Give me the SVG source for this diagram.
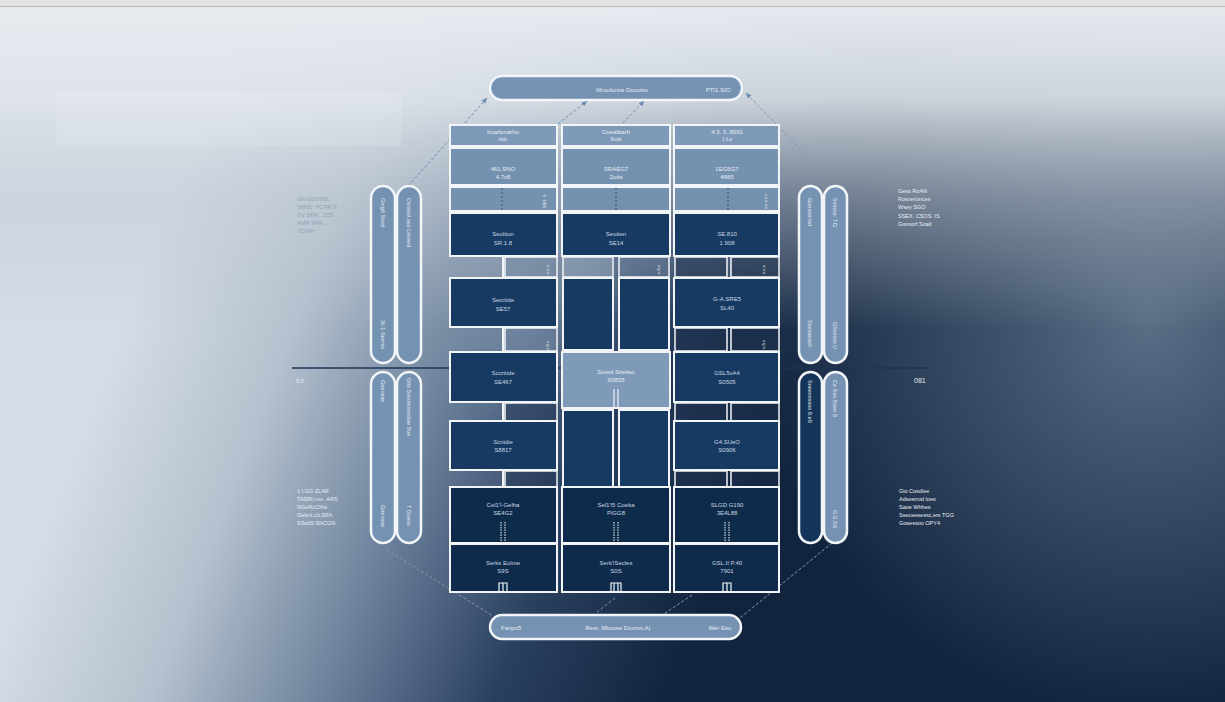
<svg xmlns="http://www.w3.org/2000/svg" width="1225" height="702" viewBox="0 0 1225 702">
<defs>
<linearGradient id="bg" gradientUnits="userSpaceOnUse" x1="100" y1="380" x2="700" y2="610">
<stop offset="0" stop-color="#d5dde6"/>
<stop offset="0.25" stop-color="#b5c1ce"/>
<stop offset="0.5" stop-color="#6d829c"/>
<stop offset="0.75" stop-color="#2a4060"/>
<stop offset="1" stop-color="#12243d"/>
</linearGradient>
<linearGradient id="top" gradientUnits="userSpaceOnUse" x1="0" y1="0" x2="0" y2="330">
<stop offset="0" stop-color="#e7ecf1" stop-opacity="1"/>
<stop offset="0.3" stop-color="#dfe4ea" stop-opacity="0.9"/>
<stop offset="0.6" stop-color="#c4cdd7" stop-opacity="0.5"/>
<stop offset="1" stop-color="#b9c3cf" stop-opacity="0"/>
</linearGradient>
<radialGradient id="cl" cx="1150" cy="320" r="400" gradientUnits="userSpaceOnUse">
<stop offset="0" stop-color="#7a8ea6" stop-opacity="0.7"/>
<stop offset="0.5" stop-color="#6a7f98" stop-opacity="0.4"/>
<stop offset="1" stop-color="#6a7f98" stop-opacity="0"/>
</radialGradient>
<radialGradient id="cl2" cx="520" cy="300" r="120" gradientUnits="userSpaceOnUse">
<stop offset="0" stop-color="#8a9bb0" stop-opacity="0.6"/>
<stop offset="1" stop-color="#8a9bb0" stop-opacity="0"/>
</radialGradient>
<marker id="ah" viewBox="0 0 10 10" refX="9" refY="5" markerWidth="6" markerHeight="6" orient="auto">
<path d="M0,1 L10,5 L0,9 Z" fill="#6d8db2"/>
</marker>
<style>
.lt{fill:#7591b0;stroke:#f2f5f8;stroke-width:2}
.hd{fill:#7e9ab8;stroke:#f2f5f8;stroke-width:2}
.dk{fill:#163a61;stroke:#f2f5f8;stroke-width:2}
.dk2{fill:#0f2b4b;stroke:#f2f5f8;stroke-width:2}
.gp{fill:#6f87a3;fill-opacity:0.35;stroke:#f2f5f8;stroke-width:1.5}
.gpd{fill:#1e3350;fill-opacity:0.45;stroke:#f2f5f8;stroke-width:1.5}
.pill{fill:#7592b2;stroke:#f2f5f8;stroke-width:2.5}
.pilld{fill:#143459;stroke:#f2f5f8;stroke-width:2.5}
.stem{stroke:#f2f5f8;stroke-width:2;fill:none}
.dsh{stroke:#6d8db2;stroke-width:1;stroke-dasharray:3 2;fill:none}
.dshg{stroke:#8796ab;stroke-width:1;stroke-dasharray:3 2;fill:none}
.inner{stroke:#3c4f68;stroke-width:1;stroke-dasharray:2 2}
.door{stroke:#f2f5f8;stroke-width:1;stroke-dasharray:1.5 1}
text{font-family:"Liberation Sans","DejaVu Sans",sans-serif}
.t{font-size:6px;fill:#e6edf4;text-anchor:middle}
.td{font-size:6px;fill:#c9d5e3;text-anchor:middle}
.tp{font-size:6px;fill:#e6edf4}
.ts{font-size:5.5px;fill:#e8edf3}
.tsg{font-size:5.5px;fill:#93a1b3}
.tv{font-size:5.5px;fill:#e3eaf2}
.tiny{font-size:4px;fill:#f2f5f8}
</style>
</defs>

<rect width="1225" height="702" fill="url(#bg)"/>
<rect width="1225" height="702" fill="url(#cl)"/>
<rect width="1225" height="702" fill="url(#cl2)"/>
<rect width="1225" height="702" fill="url(#top)"/>
<rect x="57" y="92" width="345" height="54" fill="#f4f7fa" fill-opacity="0.15"/>
<rect x="0" y="0" width="1225" height="6" fill="#e4e4e4"/>
<line x1="0" y1="6.5" x2="1225" y2="6.5" stroke="#b8b8b8" stroke-width="1"/>

<line x1="292" y1="368" x2="928" y2="368" stroke="#1e3555" stroke-width="1.5"/>
<text x="296" y="383" class="ts">5.0</text>
<text x="914" y="383" class="tp" style="font-size:7px">081</text>

<g id="connectors">
<line class="dsh" x1="408" y1="186" x2="487" y2="98" marker-end="url(#ah)"/>
<line class="dsh" x1="558" y1="124" x2="587" y2="101" marker-end="url(#ah)"/>
<line class="dsh" x1="623" y1="123" x2="644" y2="101" marker-end="url(#ah)"/>
<line class="dshg" x1="808" y1="157" x2="746" y2="93" marker-end="url(#ah)"/>
<line class="dshg" x1="422" y1="323" x2="450" y2="306"/>
<line class="dshg" x1="387" y1="550" x2="493" y2="616"/>
<line class="dshg" x1="615" y1="598" x2="596" y2="613"/>
<line class="dshg" x1="692" y1="595" x2="664" y2="614"/>
<line class="dshg" x1="832" y1="543" x2="740" y2="618"/>
</g>

<g id="top-bar">
<rect class="pill" x="490" y="76" width="252" height="24" rx="12"/>
<text x="622" y="92" class="t">Mroofonus Docotso</text>
<text x="718" y="92" class="t">PTI1.SIO</text>
</g>

<g id="bottom-bar">
<rect class="pill" x="490" y="615" width="251" height="24" rx="12"/>
<text x="501" y="630" class="tp">Fanpo5</text>
<text x="618" y="630" class="t">Resr. Mbcose Dcorsn.A)</text>
<text x="720" y="630" class="t">Wer Eso</text>
</g>

<g id="left-pills-top">
<rect class="pill" x="371" y="186" width="24" height="177" rx="12"/>
<rect class="pill" x="397" y="186" width="24" height="177" rx="12"/>
<text class="tv" transform="translate(381,198) rotate(90)">Gsrg6 Sbsd</text>
<text class="tv" transform="translate(381,320) rotate(90)">3c:1 Seerso</text>
<text class="tv" transform="translate(407,198) rotate(90)">Ceraepl.aso Leceed</text>
</g>
<g id="left-pills-bottom">
<rect class="pill" x="371" y="372" width="24" height="171" rx="12"/>
<rect class="pill" x="397" y="372" width="24" height="171" rx="12"/>
<text class="tv" transform="translate(381,380) rotate(90)">Goensae</text>
<text class="tv" transform="translate(381,505) rotate(90)">Goensse</text>
<text class="tv" transform="translate(407,378) rotate(90)">Gtts Socolesseslae Sbe</text>
<text class="tv" transform="translate(407,505) rotate(90)">T Goeso</text>
</g>
<g id="right-pills-top">
<rect class="pill" x="799" y="186" width="23" height="177" rx="11.5"/>
<rect class="pill" x="824" y="186" width="23" height="177" rx="11.5"/>
<text class="tv" transform="translate(808,198) rotate(90)">Goosoonsd</text>
<text class="tv" transform="translate(808,320) rotate(90)">Ssosaesoll</text>
<text class="tv" transform="translate(833,198) rotate(90)">Ssssss: T.G</text>
<text class="tv" transform="translate(833,322) rotate(90)">GSsssss.U</text>
</g>
<g id="right-pills-bottom">
<rect class="pilld" x="799" y="372" width="23" height="171" rx="11.5"/>
<rect class="pill" x="824" y="372" width="23" height="171" rx="11.5"/>
<text class="tv" transform="translate(808,380) rotate(90)">Soeeosssoo 9.eS</text>
<text class="tv" transform="translate(833,380) rotate(90)">Ce.Sas.Sseo.S</text>
<text class="tv" transform="translate(833,510) rotate(90)">G.S.SS</text>
</g>

<g id="note-left-top">
<text class="tsg" x="297" y="201">GN GDGSSL</text>
<text class="tsg" x="297" y="209">SNND .PCRR.G</text>
<text class="tsg" x="297" y="217">GV SRR.. ZZS</text>
<text class="tsg" x="297" y="225">AMR SRR.:..</text>
<text class="tsg" x="297" y="233">GDVAY</text>
</g>
<g id="note-left-bottom">
<text class="ts" x="297" y="493">1 I.GG ZLAR</text>
<text class="ts" x="297" y="501">TASRl.r.ee .ARS</text>
<text class="ts" x="297" y="509">NGeRcCINs</text>
<text class="ts" x="297" y="517">Gefert.c/LSRA</text>
<text class="ts" x="297" y="525">SSatlS SNCGN</text>
</g>
<g id="note-right-top">
<text class="ts" x="898" y="193">Gess RoAN</text>
<text class="ts" x="898" y="201">Rosneronces</text>
<text class="ts" x="898" y="209">Wsey SGO</text>
<text class="ts" x="898" y="218">SSEX. CSOS. IS</text>
<text class="ts" x="898" y="226">Goosorf Soalt</text>
</g>
<g id="note-right-bottom">
<text class="ts" x="899" y="493">Gio Cosdlee</text>
<text class="ts" x="899" y="501">Adsesrrod loes</text>
<text class="ts" x="899" y="509">Saoe Whhes</text>
<text class="ts" x="899" y="517">Sseceesessc,ers TGG</text>
<text class="ts" x="899" y="525">Gosessoo OPY4</text>
</g>

<g id="col1">
<rect class="hd" x="450" y="125" width="107" height="21"/>
<text class="t" x="503" y="134">Ircarlonarho</text>
<text class="t" x="503" y="141" style="font-size:4.5px">ntdo</text>
<rect class="lt" x="450" y="148" width="107" height="37"/>
<text class="t" x="503" y="171">461.SNO</text>
<text class="t" x="503" y="179">4.7c8</text>
<rect class="lt" x="450" y="187" width="107" height="24"/>
<line class="inner" x1="502" y1="188" x2="502" y2="210"/>
<text class="tiny" transform="translate(546,208) rotate(-90)">SSO ·9.</text>
<rect class="dk" x="450" y="213" width="107" height="43"/>
<text class="td" x="503" y="236">Seoltion</text>
<text class="td" x="503" y="245">SR.1.8</text>
<line class="stem" x1="503" y1="256" x2="503" y2="278"/>
<rect class="gp" x="505" y="257" width="52" height="20"/>
<text class="tiny" transform="translate(549,274) rotate(-90)">o.o.o</text>
<rect class="dk" x="450" y="278" width="107" height="49"/>
<text class="td" x="503" y="302">Secrtide</text>
<text class="td" x="503" y="311">SE57</text>
<line class="stem" x1="503" y1="327" x2="503" y2="352"/>
<rect class="gp" x="505" y="328" width="52" height="23"/>
<text class="tiny" transform="translate(549,350) rotate(-90)">o.S.o</text>
<rect class="dk" x="450" y="352" width="107" height="50"/>
<text class="td" x="503" y="375">Sccritide</text>
<text class="td" x="503" y="384">SE467</text>
<line class="stem" x1="503" y1="402" x2="503" y2="421"/>
<rect class="gpd" x="505" y="403" width="52" height="18"/>
<rect class="dk" x="450" y="421" width="107" height="49"/>
<text class="td" x="503" y="444">Scnidie</text>
<text class="td" x="503" y="452">S8817</text>
<line class="stem" x1="503" y1="470" x2="503" y2="487"/>
<rect class="gpd" x="505" y="471" width="52" height="16"/>
<rect class="dk2" x="450" y="487" width="107" height="56"/>
<text class="td" x="503" y="507">Cel1'l-Gelha</text>
<text class="td" x="503" y="515">SE4G2</text>
<line class="door" x1="501" y1="522" x2="501" y2="543"/>
<line class="door" x1="505" y1="522" x2="505" y2="543"/>
<rect class="dk2" x="450" y="544" width="107" height="48"/>
<text class="td" x="503" y="565">Serks Eolme</text>
<text class="td" x="503" y="573">S9S</text>
<path class="stem" style="stroke-width:1.2" d="M499,592 V583 H507 V592 M503,583 V592"/>
</g>

<g id="col2">
<rect class="hd" x="562" y="125" width="108" height="21"/>
<text class="t" x="616" y="134">Ooealbarh</text>
<text class="t" x="616" y="141" style="font-size:4.5px">Roda</text>
<rect class="lt" x="562" y="148" width="108" height="37"/>
<text class="t" x="616" y="171">SRAEG7</text>
<text class="t" x="616" y="179">2otts</text>
<rect class="lt" x="562" y="187" width="108" height="24"/>
<line class="inner" x1="616" y1="188" x2="616" y2="210"/>
<rect class="dk" x="562" y="213" width="108" height="43"/>
<text class="td" x="616" y="236">Seoiten</text>
<text class="td" x="616" y="245">SE14</text>
<rect class="gp" x="563" y="257" width="50" height="20" style="fill:#8fa3ba;fill-opacity:0.55"/>
<rect class="gp" x="619" y="257" width="50" height="20"/>
<text class="tiny" transform="translate(660,274) rotate(-90)">o.S.o</text>
<rect class="dk" x="563" y="278" width="50" height="72"/>
<rect class="dk" x="619" y="278" width="50" height="72"/>
<rect class="hd" x="562" y="352" width="108" height="56"/>
<text class="t" x="616" y="374">Sored Sheliso</text>
<text class="t" x="616" y="382">S0835</text>
<line class="stem" style="stroke-width:1.2" x1="614" y1="389" x2="614" y2="408"/>
<line class="stem" style="stroke-width:1.2" x1="618" y1="389" x2="618" y2="408"/>
<rect class="dk" x="563" y="410" width="50" height="77"/>
<rect class="dk" x="619" y="410" width="50" height="77"/>
<rect class="dk2" x="562" y="487" width="108" height="56"/>
<text class="td" x="616" y="507">Sel1'l5 Coeba</text>
<text class="td" x="616" y="515">PiGG8</text>
<line class="door" x1="614" y1="522" x2="614" y2="543"/>
<line class="door" x1="618" y1="522" x2="618" y2="543"/>
<rect class="dk2" x="562" y="544" width="108" height="48"/>
<text class="td" x="616" y="565">Serk'lSecles</text>
<text class="td" x="616" y="573">S0S</text>
<path class="stem" style="stroke-width:1.2" d="M611,592 V583 H621 V592 M614,583 V592 M618,583 V592"/>
</g>

<g id="col3">
<rect class="hd" x="674" y="125" width="105" height="21"/>
<text class="t" x="727" y="134">4.3. 3..8091</text>
<text class="t" x="727" y="141" style="font-size:4.5px">1 tt.a</text>
<rect class="lt" x="674" y="148" width="105" height="37"/>
<text class="t" x="727" y="171">1EG5G7</text>
<text class="t" x="727" y="179">4665</text>
<rect class="lt" x="674" y="187" width="105" height="24"/>
<line class="inner" x1="728" y1="188" x2="728" y2="210"/>
<text class="tiny" transform="translate(767,209) rotate(-90)">o.o.o o.o</text>
<rect class="dk" x="674" y="213" width="105" height="43"/>
<text class="td" x="727" y="236">SE.810</text>
<text class="td" x="727" y="245">1.908</text>
<rect class="gpd" x="675" y="257" width="52" height="20"/>
<rect class="gpd" x="731" y="257" width="48" height="20"/>
<text class="tiny" transform="translate(765,274) rotate(-90)">o.o.o</text>
<rect class="dk" x="674" y="278" width="105" height="49"/>
<text class="td" x="727" y="301">G-A.SRE5</text>
<text class="td" x="727" y="310">SL40</text>
<rect class="gpd" x="675" y="328" width="52" height="23"/>
<rect class="gpd" x="731" y="328" width="48" height="23"/>
<text class="tiny" transform="translate(765,349) rotate(-90)">o.S.o</text>
<rect class="dk" x="674" y="352" width="105" height="50"/>
<text class="td" x="727" y="375">GSL5vA4</text>
<text class="td" x="727" y="384">S0505</text>
<rect class="gpd" x="675" y="403" width="52" height="18"/>
<rect class="gpd" x="731" y="403" width="48" height="18"/>
<rect class="dk" x="674" y="421" width="105" height="49"/>
<text class="td" x="727" y="444">G4.SUeO</text>
<text class="td" x="727" y="452">S0906</text>
<rect class="gpd" x="675" y="471" width="52" height="16"/>
<rect class="gpd" x="731" y="471" width="48" height="16"/>
<rect class="dk2" x="674" y="487" width="105" height="56"/>
<text class="td" x="727" y="507">SLGD G190</text>
<text class="td" x="727" y="515">3E4L88</text>
<line class="door" x1="725" y1="522" x2="725" y2="543"/>
<line class="door" x1="729" y1="522" x2="729" y2="543"/>
<rect class="dk2" x="674" y="544" width="105" height="48"/>
<text class="td" x="727" y="565">GSL.II P.40</text>
<text class="td" x="727" y="573">7901</text>
<path class="stem" style="stroke-width:1.2" d="M723,592 V583 H731 V592 M727,583 V592"/>
</g>
</svg>
